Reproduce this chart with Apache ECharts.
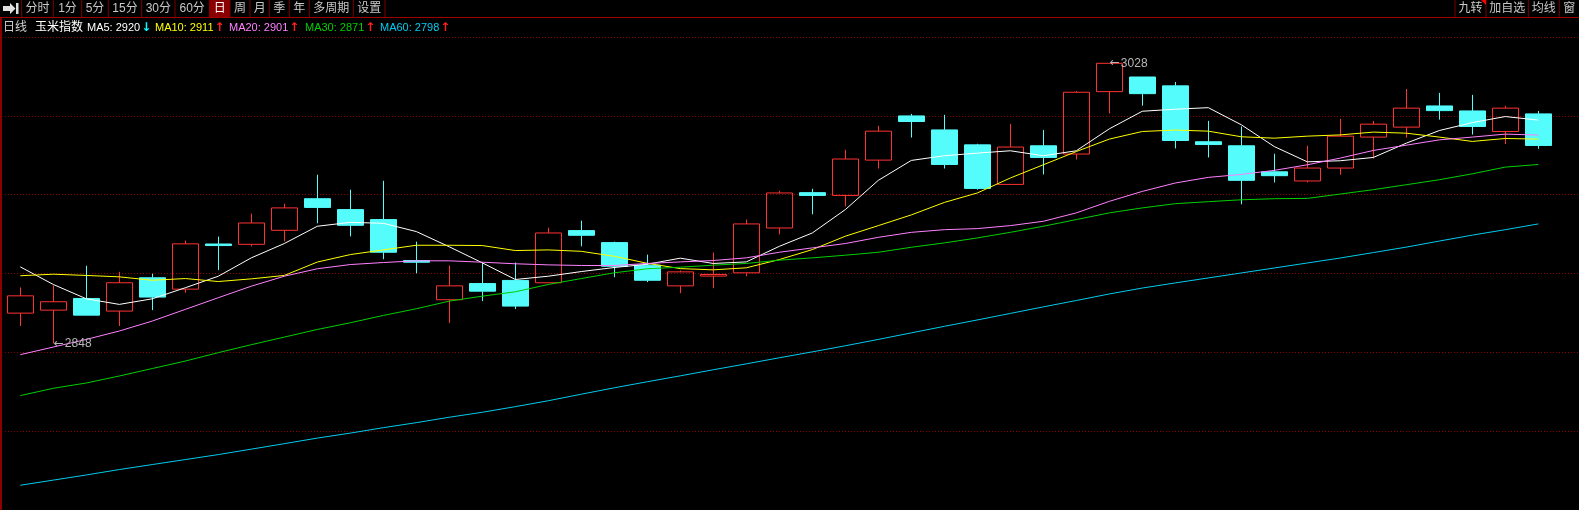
<!DOCTYPE html>
<html><head><meta charset="utf-8">
<script src="https://cdn.jsdelivr.net/npm/echarts@6/dist/echarts.min.js"></script>
<style>html,body{margin:0;padding:0;background:#000;overflow:hidden}#c{width:1579px;height:510px}</style>
</head><body><div id="c"></div>
<script>
// ---------- data ----------
const categories = ['1','2','3','4','5','6','7','8','9','10','11','12','13','14','15','16','17','18','19','20','21','22','23','24','25','26','27','28','29','30','31','32','33','34','35','36','37','38','39','40','41','42','43','44','45','46','47'];
const opens  = [2867.5,2869.4,2876.9,2868.8,2890.2,2882.9,2911.9,2911.7,2920.7,2941.0,2934.0,2927.6,2901.3,2876.1,2886.5,2888.5,2887.0,2920.5,2912.8,2898.3,2885.0,2891.3,2893.4,2922.2,2944.9,2943.1,2965.8,2994.2,2985.2,2975.6,2950.2,2975.0,2969.7,3009.8,3019.2,3013.5,2977.6,2975.0,2958.3,2952.4,2960.7,2980.6,2987.0,3000.6,2997.4,2984.2,2995.5];
const closes = [2878.6,2874.8,2866.2,2887.0,2877.8,2912.0,2910.9,2925.4,2935.1,2935.4,2923.9,2906.6,2900.2,2885.0,2881.6,2872.0,2919.0,2917.5,2897.6,2888.6,2894.0,2892.3,2924.8,2944.7,2943.1,2966.5,2984.4,2990.6,2963.0,2947.6,2974.2,2967.5,3009.4,3028.0,3008.5,2978.4,2975.8,2952.8,2955.8,2960.7,2981.2,2988.9,2999.2,2997.6,2987.4,2999.2,2975.2];
const lows   = [2859.2,2848.0,2866.2,2859.2,2869.4,2880.6,2895.1,2910.4,2913.6,2925.2,2916.8,2902.1,2893.1,2861.1,2875.2,2870.1,2887.0,2910.4,2890.6,2887.4,2880.3,2883.5,2891.2,2918.1,2931.0,2936.1,2960.4,2980.3,2960.4,2946.8,2950.2,2956.6,2966.2,2995.7,3000.8,2973.3,2967.5,2937.4,2951.5,2951.5,2956.4,2966.8,2980.3,2991.8,2982.2,2976.1,2973.1];
const highs  = [2884.0,2885.3,2897.9,2894.0,2892.8,2914.1,2916.7,2931.4,2937.8,2956.4,2946.8,2952.5,2913.4,2898.1,2900.0,2900.0,2922.4,2926.9,2913.4,2905.1,2894.9,2906.4,2927.6,2946.1,2947.4,2972.4,2987.8,2995.5,2994.9,2976.3,2989.1,2985.2,3010.2,3028.0,3019.2,3016.0,2991.0,2987.4,2969.9,2975.0,2992.3,2991.0,3011.5,3009.0,3007.7,3000.6,2997.4];
const ma5  = [2897.2,2885.9,2876.7,2873.1,2876.7,2883.8,2891.2,2903.0,2912.2,2923.3,2925.8,2925.2,2919.9,2910.1,2899.8,2889.1,2891.2,2894.2,2896.8,2898.9,2902.8,2899.4,2900.4,2910.4,2919.0,2934.0,2952.8,2965.6,2968.6,2970.3,2971.8,2968.6,2971.8,2985.9,2997.2,2998.5,2999.5,2988.5,2974.5,2964.7,2965.4,2967.5,2976.7,2984.8,2989.9,2993.8,2991.5];
const ma10 = [2891.5,2892.5,2891.7,2890.8,2888.6,2889.7,2887.8,2889.5,2891.7,2900.3,2905.1,2908.1,2911.1,2911.1,2910.9,2907.7,2908.1,2907.2,2904.0,2899.5,2896.1,2895.3,2896.6,2901.9,2908.3,2916.9,2923.7,2930.6,2938.6,2944.7,2954.3,2962.8,2971.3,2979.3,2984.2,2985.1,2984.4,2980.8,2979.9,2981.2,2982.0,2983.8,2983.1,2980.6,2977.8,2979.7,2979.3];
const ma20 = [2840.8,2845.7,2850.6,2856.0,2862.4,2869.9,2877.4,2884.8,2891.2,2896.0,2898.7,2900.0,2901.1,2901.1,2900.2,2899.2,2898.5,2898.1,2898.1,2899.4,2900.4,2901.3,2903.0,2906.6,2909.4,2912.2,2916.2,2919.4,2921.1,2921.8,2923.7,2926.5,2931.9,2939.3,2945.7,2951.1,2954.7,2956.6,2959.2,2962.8,2967.1,2972.0,2975.4,2978.8,2980.6,2982.5,2981.9];
const ma30 = [2814.5,2819.2,2822.6,2827.1,2831.9,2836.7,2842.1,2847.2,2852.1,2857.0,2861.3,2866.0,2870.3,2875.2,2878.4,2881.2,2885.9,2889.7,2893.4,2896.0,2897.0,2898.3,2899.4,2901.5,2903.0,2904.7,2906.6,2909.8,2912.6,2915.8,2919.4,2923.3,2927.6,2931.9,2935.1,2937.8,2939.1,2940.3,2941.0,2941.2,2944.0,2946.8,2950.0,2953.2,2957.0,2961.3,2963.0];
const ma60 = [2756.9,2760.2,2763.5,2767.0,2770.2,2773.4,2776.6,2780.1,2783.6,2787.2,2790.4,2793.9,2797.1,2800.6,2803.8,2807.4,2811.2,2815.4,2819.5,2823.4,2827.2,2831.1,2834.9,2838.8,2842.6,2846.5,2850.6,2854.8,2859.0,2863.1,2867.3,2871.5,2875.6,2879.8,2883.6,2886.9,2890.1,2893.3,2896.5,2899.7,2902.9,2906.4,2909.9,2913.8,2917.6,2921.1,2924.8];
const extremeIdx = [33, 1];
const extremeVal = [3028, 2848];
const maNames  = ['MA5','MA10','MA20','MA30','MA60'];
const maHeader = [2920, 2911, 2901, 2871, 2798];
const maArrows = ['↓','↑','↑','↑','↑'];
const toolbarLeft  = ['分时','1分','5分','15分','30分','60分','日','周','月','季','年','多周期','设置'];
const toolbarRight = ['九转','加自选','均线','窗'];
const periodName = '日线';
const symbolName = '玉米指数';

// ---------- layout / style ----------
const FONT = '12px "Liberation Sans","Noto Sans CJK SC",sans-serif';
const MA_FONT = '11px "Liberation Sans",sans-serif';
const ARROW_FONT = 'bold 12px "DejaVu Sans",sans-serif';
const maColors = ['#ffffff','#ffff00','#ff80ff','#00d000','#00ccee'];
const arrowColors = {'↓':'#00ffff','↑':'#ff2020'};
const leftSeps  = [21.7,53.3,81.7,108.3,141.7,175,209.3,230,250,269.3,289.3,309.3,353.3,385];
const rightSeps = [1455,1486,1528.3,1559.3,1579];
const maTextX  = [87,155,229,305,380];
const selectedIdx = 6;

const mctx = document.createElement('canvas').getContext('2d');
mctx.font = MA_FONT;

const g = [];
g.push({type:'rect', shape:{x:leftSeps[selectedIdx], y:0, width:leftSeps[selectedIdx+1]-leftSeps[selectedIdx], height:17}, style:{fill:'#8b0000'}, silent:true});
leftSeps.forEach(x => g.push({type:'line', shape:{x1:x, y1:0, x2:x, y2:17}, style:{stroke:'#7a0000', lineWidth:1}, silent:true}));
rightSeps.slice(0,4).forEach(x => g.push({type:'line', shape:{x1:x, y1:0, x2:x, y2:17}, style:{stroke:'#7a0000', lineWidth:1}, silent:true}));
toolbarLeft.forEach((t,i) => g.push({type:'text', x:(leftSeps[i]+leftSeps[i+1])/2, y:9, style:{text:t, fill: i===selectedIdx ? '#ffffff' : '#c8c8c8', font:FONT, align:'center', verticalAlign:'middle'}, silent:true}));
toolbarRight.forEach((t,i) => g.push({type:'text', x:(rightSeps[i]+rightSeps[i+1])/2, y:9, style:{text:t, fill:'#c8c8c8', font:FONT, align:'center', verticalAlign:'middle'}, silent:true}));
g.push({type:'polygon', shape:{points:[[1481,0],[1486,0],[1486,5]]}, style:{fill:'#ff0000'}, silent:true});
g.push({type:'polygon', shape:{points:[[3,6],[10,6],[10,3],[15.5,8.5],[10,14],[10,11],[3,11]]}, style:{fill:'#e0e0e0'}, silent:true});
g.push({type:'rect', shape:{x:16, y:3, width:2.5, height:11}, style:{fill:'#e0e0e0'}, silent:true});
g.push({type:'line', shape:{x1:0, y1:17.5, x2:1579, y2:17.5}, style:{stroke:'#a00000', lineWidth:1}, silent:true});
g.push({type:'line', shape:{x1:1, y1:18, x2:1, y2:510}, style:{stroke:'#8b0000', lineWidth:2}, silent:true});
g.push({type:'text', x:3, y:28, style:{text:periodName, fill:'#d0d0d0', font:FONT, verticalAlign:'middle'}, silent:true});
g.push({type:'text', x:35, y:28, style:{text:symbolName, fill:'#ffffff', font:FONT, verticalAlign:'middle'}, silent:true});
maNames.forEach((n,i) => {
  const txt = n + ': ' + maHeader[i];
  g.push({type:'text', x:maTextX[i], y:28, style:{text:txt, fill:maColors[i], font:MA_FONT, verticalAlign:'middle'}, silent:true});
  const w = mctx.measureText(txt).width;
  g.push({type:'text', x:maTextX[i] + w + 1, y:28, style:{text:maArrows[i], fill:arrowColors[maArrows[i]], font:ARROW_FONT, verticalAlign:'middle'}, silent:true});
});

const chart = echarts.init(document.getElementById('c'), null, {renderer:'canvas'});
const lineSeries = [ma5, ma10, ma20, ma30, ma60].map((d,i) => ({
  type:'line', name:maNames[i], data:d, xAxisIndex:0, yAxisIndex:0, showSymbol:false, symbol:'none',
  lineStyle:{color:maColors[i], width:1}, z:3, silent:true
}));

chart.setOption({
  backgroundColor:'#000000',
  animation:false,
  grid:[
    {left:3.8, width:1551, top:37, height:474},
    {left:5, right:0, top:37, height:474}
  ],
  xAxis:[
    {type:'category', data:categories, gridIndex:0, boundaryGap:true, show:false},
    {type:'value', gridIndex:1, min:0, max:1, show:false}
  ],
  yAxis:[
    {type:'value', gridIndex:0, min:2741, max:3044.9, show:false, splitLine:{show:false}},
    {type:'value', gridIndex:1, min:0, max:6, interval:1, axisLine:{show:false}, axisTick:{show:false}, axisLabel:{show:false},
     splitLine:{show:true, lineStyle:{color:'#8b0000', width:1, type:[1,2]}}}
  ],
  graphic:g,
  series:[
    {type:'line', data:[], xAxisIndex:1, yAxisIndex:1},
    {
      type:'candlestick', xAxisIndex:0, yAxisIndex:0, barWidth:26, silent:true,
      data: categories.map((c,i) => [opens[i], closes[i], lows[i], highs[i]]),
      itemStyle:{color:'rgba(0,0,0,0)', color0:'#54fcfc', borderColor:'#ff3232', borderColor0:'#54fcfc', borderWidth:1},
      markPoint:{
        symbol:'circle', symbolSize:1, silent:true,
        itemStyle:{color:'rgba(0,0,0,0)'},
        label:{show:true, position:'right', distance:0,
               formatter: p => '{a|←}{b|' + p.value + '}',
               rich:{
                 a:{color:'#b8b8b8', fontSize:12, fontFamily:'"DejaVu Sans",sans-serif'},
                 b:{color:'#b8b8b8', fontSize:12, fontFamily:'"Liberation Sans",sans-serif', padding:[0,0,0,1]}
               }},
        data: extremeIdx.map((ix,k) => ({coord:[ix, extremeVal[k]], value:extremeVal[k]}))
      }
    }
  ].concat(lineSeries)
});
</script></body></html>
